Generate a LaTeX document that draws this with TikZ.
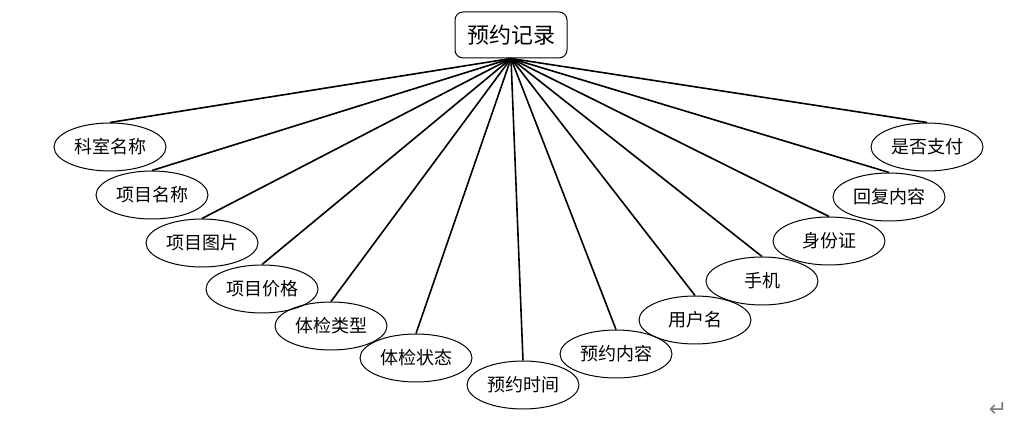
\documentclass[tikz,border=0pt]{standalone}
\usepackage{fontspec}
\setmainfont{Noto Sans CJK SC}
\newfontfamily\symfont{DejaVu Sans}
\usetikzlibrary{shapes.geometric}

\begin{document}
\begin{tikzpicture}[x=0.5pt,y=-0.5pt,
    attr/.style={draw,ellipse,line width=0.5pt,minimum width=56pt,minimum height=24pt,inner sep=0pt,font=\fontsize{9}{11}\selectfont},
    entity/.style={draw,rounded corners=4pt,line width=0.5pt,minimum width=56pt,minimum height=23pt,inner sep=0pt,font=\fontsize{11}{13}\selectfont},
    link/.style={line width=0.8pt}]
    \useasboundingbox (0,0) rectangle (1013,426);
    % Entidad central y sus atributos.
    \node[entity] (rec) at (511,35) {预约记录};
    \node[attr] (ksmc) at (110,147) {科室名称};
    \node[attr] (xmmc) at (152,195) {项目名称};
    \node[attr] (xmtp) at (202,243) {项目图片};
    \node[attr] (xmjg) at (262,289) {项目价格};
    \node[attr] (tjlx) at (331,326) {体检类型};
    \node[attr] (tjzt) at (416,358) {体检状态};
    \node[attr] (yysj) at (523,385) {预约时间};
    \node[attr] (yynr) at (616,354) {预约内容};
    \node[attr] (yhm)  at (695,320) {用户名};
    \node[attr] (sj)   at (762,281) {手机};
    \node[attr] (sfz)  at (829,241) {身份证};
    \node[attr] (hfnr) at (889,197) {回复内容};
    \node[attr] (sfzf) at (927,147) {是否支付};
    \foreach \a in {ksmc,xmmc,xmtp,xmjg,tjlx,tjzt,yysj,yynr,yhm,sj,sfz,hfnr,sfzf}
        \draw[link] (rec.south) -- (\a.north);
    \node[gray,font=\symfont\fontsize{11}{13}\selectfont] (ret) at (998,410) {↵};
\end{tikzpicture}
\end{document}
